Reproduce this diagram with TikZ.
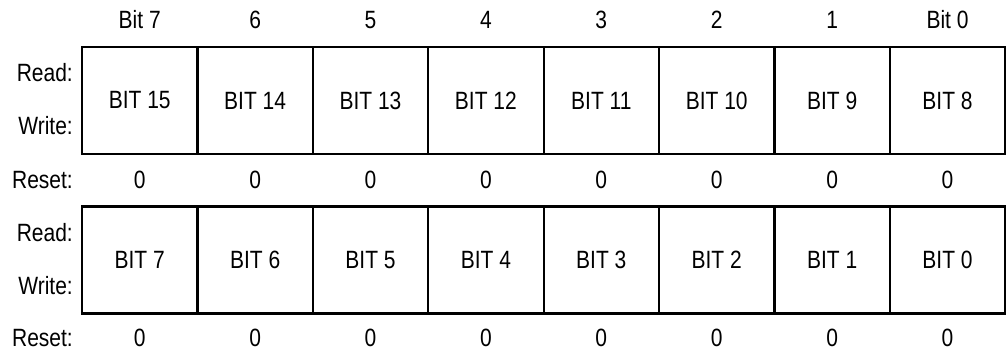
\documentclass[tikz,border=0pt]{standalone}
\usepackage{fontspec}
\setmainfont{Liberation Sans}[FakeStretch=0.84]
\begin{document}
\begin{tikzpicture}[x=1pt,y=-1pt,
  cell/.style={draw,line width=2.2pt,minimum width=115.4pt,minimum height=107pt,inner sep=0pt,anchor=center},
  lbl/.style={anchor=east,inner sep=0pt},
  txt/.style={inner sep=0pt,anchor=center},
  font=\fontsize{25}{29}\selectfont]
\useasboundingbox (0,0) rectangle (1006,353);
\foreach \i/\h in {0/Bit 7,1/6,2/5,3/4,4/3,5/2,6/1,7/Bit 0}{
  \node[txt] (h\i) at ({82+115.4*(\i+0.5)},20) {\h};
}
\foreach \i in {0,...,7}{
  \pgfmathtruncatemacro{\hi}{15-\i}
  \pgfmathtruncatemacro{\lo}{7-\i}
  \node[cell] (a\i) at ({82+115.4*(\i+0.5)},100.5) {BIT \hi};
  \node[txt] (ra\i) at ({82+115.4*(\i+0.5)},180) {0};
  \node[cell] (b\i) at ({82+115.4*(\i+0.5)},260) {BIT \lo};
  \node[txt] (rb\i) at ({82+115.4*(\i+0.5)},338) {0};
}
\node[lbl] (rd1) at (73,73) {Read:};
\node[lbl] (wr1) at (73,126) {Write:};
\node[lbl] (rs1) at (73,180) {Reset:};
\node[lbl] (rd2) at (73,233) {Read:};
\node[lbl] (wr2) at (73,286) {Write:};
\node[lbl] (rs2) at (73,338) {Reset:};
\end{tikzpicture}
\end{document}
